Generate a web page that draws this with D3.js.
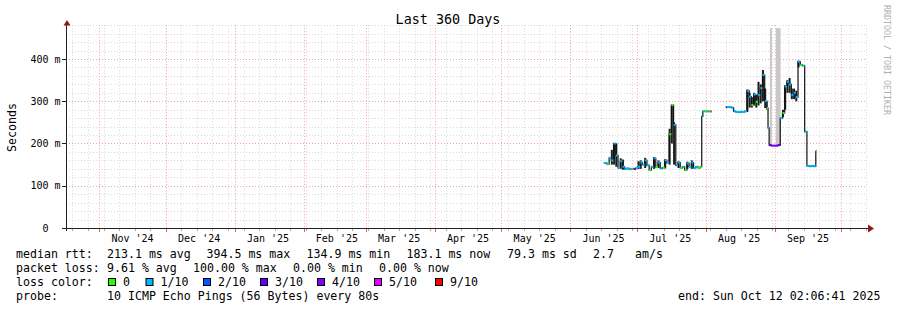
<!DOCTYPE html>
<html>
<head>
<meta charset="utf-8">
<script src="https://cdn.jsdelivr.net/npm/d3@7"></script>
<style>
  body { margin: 0; background: #fff; }
  svg text { font-family: "DejaVu Sans Mono", monospace; white-space: pre; }
</style>
</head>
<body>
<div id="chart"></div>
<script>
// ---- data ----
var endTime = "2025-10-12 02:06:41";
var spanDays = 360;

// consolidated samples, median rtt in ms, loss out of 10 pings
var sampleTimes = [
  "2025-06-16 02", "2025-06-17 12", "2025-06-18 12", "2025-06-19 12", "2025-06-20 12",
  "2025-06-21 12", "2025-06-22 12", "2025-06-23 12", "2025-06-24 12", "2025-06-25 12",
  "2025-06-26 12", "2025-06-27 12", "2025-06-28 12", "2025-06-29 12", "2025-06-30 12",
  "2025-07-01 12", "2025-07-02 12", "2025-07-03 12", "2025-07-04 12", "2025-07-05 12",
  "2025-07-06 12", "2025-07-07 12", "2025-07-08 12", "2025-07-09 12", "2025-07-10 12",
  "2025-07-11 12", "2025-07-12 12", "2025-07-13 12", "2025-07-14 12", "2025-07-15 12",
  "2025-07-16 12", "2025-07-17 12", "2025-07-18 12", "2025-07-19 12", "2025-07-20 12",
  "2025-07-21 12", "2025-07-22 12", "2025-07-23 12", "2025-07-24 12", "2025-07-25 12",
  "2025-07-26 12", "2025-07-27 12", "2025-07-28 12", "2025-07-29 12", "2025-07-30 04",
  "2025-07-30 16", "2025-07-31 12", "2025-08-01 12", "2025-08-02 12", "2025-08-03 03",
  "2025-08-03 16", "2025-08-10 00", "2025-08-10 12", "2025-08-11 12", "2025-08-12 12",
  "2025-08-13 12", "2025-08-14 12", "2025-08-15 12", "2025-08-16 12", "2025-08-17 12",
  "2025-08-18 12", "2025-08-19 12", "2025-08-20 12", "2025-08-21 12", "2025-08-22 12",
  "2025-08-23 12", "2025-08-24 12", "2025-08-25 12", "2025-08-26 12", "2025-08-27 12",
  "2025-08-28 12", "2025-08-29 00", "2025-08-29 12", "2025-08-30 12", "2025-08-31 12",
  "2025-09-01 12", "2025-09-02 12", "2025-09-03 12", "2025-09-04 12", "2025-09-05 12",
  "2025-09-06 12", "2025-09-07 12", "2025-09-08 12", "2025-09-09 12", "2025-09-10 12",
  "2025-09-11 12", "2025-09-12 12", "2025-09-13 12", "2025-09-14 12", "2025-09-15 12",
  "2025-09-16 12", "2025-09-17 12", "2025-09-18 12", "2025-09-19 12", "2025-09-20 00"
];
var medianMs = [
  154, 151, 166, 160, 200,
  172, 142, 158, 145, 140,
  141, 139, 140, 140, 142,
  145, 155, 150, 160, 148,
  137, 145, 165, 144, 155,
  141, 143, 160, 154, 222,
  291, 244, 148, 155, 142,
  145, 137, 153, 145, 155,
  142, 145, 142, 145, 264,
  276, 276, 276, 276, 276,
  null, 286, 286, 286, 285,
  276, 275, 274, 275, 275,
  276, 325, 311, 291, 316,
  299, 315, 331, 362, 300,
  284, 237, 196, 195, 195,
  195, 196, 260, 272, 335,
  346, 340, 315, 320, 310,
  394, 386, 384, 228, 147,
  146, 147, 146, 183, null
];
var lossCount = [
  1, 0, 1, 1, 1,
  1, 1, 1, 1, 1,
  1, 1, 0, 3, 1,
  1, 1, 1, 1, 1,
  0, 1, 1, 0, 1,
  1, 0, 1, 1, 0,
  0, 1, 1, 1, 0,
  1, 0, 1, 1, 1,
  1, 1, 0, 0, 1,
  1, 0, 1, 0, 10,
  0, 3, 1, 1, 1,
  1, 1, 1, 1, 1,
  1, 1, 1, 0, 1,
  0, 1, 1, 1, 1,
  0, 1, 3, 4, 4,
  4, 3, 1, 0, 1,
  1, 1, 1, 1, 1,
  1, 0, 1, 1, 1,
  1, 1, 1, 0, 0
];
// smoke (spread of the pings) where it is wider than the median line
var smokeLoMs = [
  null, null, null, 150, 150,
  145, null, 140, 138, null,
  null, null, null, null, null,
  140, 140, null, 142, null,
  null, null, 140, null, 142,
  null, null, 141, null, 150,
  200, 150, null, 142, null,
  null, null, 140, null, 140,
  null, null, null, null, null,
  null, null, null, null, null,
  null, null, null, null, null,
  null, null, null, null, null,
  null, 275, 285, 285, 290,
  285, 290, 295, 300, 284,
  280, null, null, null, null,
  null, null, null, 262, 280,
  320, 320, 305, 305, 300,
  380, null, null, null, null,
  null, null, null, null, null
];
var smokeHiMs = [
  null, null, null, 185, 200,
  200, null, 165, 162, null,
  null, null, null, null, null,
  158, 160, null, 166, null,
  null, null, 168, null, 160,
  null, null, 163, null, 235,
  291, 250, null, 158, null,
  null, null, 157, null, 160,
  null, null, null, null, null,
  null, null, null, null, null,
  null, null, null, null, null,
  null, null, null, null, null,
  null, 328, 320, 310, 320,
  315, 346, 340, 374, 330,
  300, null, null, null, null,
  null, null, null, 280, 338,
  350, 355, 330, 330, 325,
  396, null, null, null, null,
  null, null, null, null, null
];
// periods of full packet loss
var outageStart = ["2025-08-29 20", "2025-09-01 13"];
var outageEnd   = ["2025-08-30 18", "2025-09-03 16"];

var lossThresholds = [1, 2, 3, 4, 5, 9];
var lossColors = ["#26ff00", "#00b8ff", "#0059ff", "#5e00ff", "#7e00ff", "#dd00ff", "#ff0000"];
var lossLabels = ["0", "1/10", "2/10", "3/10", "4/10", "5/10", "9/10"];

var yTicks = [0, 100, 200, 300, 400];
var yTickLabels = ["0  ", "100 m", "200 m", "300 m", "400 m"];
var yMax = 480;

var rttLabels = ["median rtt:", "213.1 ms avg", "394.5 ms max", "134.9 ms min", "183.1 ms now", "79.3 ms sd", "2.7", "am/s"];
var lossStatLabels = ["packet loss:", "9.61 % avg", "100.00 % max", "0.00 % min", "0.00 % now"];
var probeLabels = ["probe:", "10 ICMP Echo Pings (56 Bytes) every 80s"];
var endLabel = "end: Sun Oct 12 02:06:41 2025";
var title = "Last 360 Days";

// ---- layout ----
var W = 897, H = 310;
var x0 = 66, x1 = 866, yTop = 25.2, yBot = 228;
var rttX = [16, 107, 206.5, 306.5, 406.5, 507, 593, 635];
var lossStatX = [16, 107, 193, 293, 379];
var boxX = [108, 145.5, 203, 260, 317, 374, 435];

var parseT = d3.utcParse("%Y-%m-%d %H");
var end = d3.utcParse("%Y-%m-%d %H:%M:%S")(endTime);
var start = d3.utcDay.offset(end, -spanDays);

var x = d3.scaleUtc().domain([start, end]).range([x0, x1]);
var y = d3.scaleLinear().domain([0, yMax]).range([yBot, yTop]);
var lossColor = d3.scaleThreshold().domain(lossThresholds).range(lossColors);

var samples = sampleTimes.map(function(t, i) {
  return { t: parseT(t), ms: medianMs[i], loss: lossCount[i], lo: smokeLoMs[i], hi: smokeHiMs[i] };
});
samples.forEach(function(d, i) {
  d.next = i < samples.length - 1 ? samples[i + 1].t : d.t;
});

var svg = d3.select("#chart").append("svg")
  .attr("width", W)
  .attr("height", H)
  .style("display", "block");

svg.append("rect").attr("width", W).attr("height", H).attr("fill", "#fff");

var crisp = function(v) { return Math.round(v) + 0.5; };
var minorCol = "#d9d9d9", majorCol = "#f3a3a3";

// ---- grid ----
var grid = svg.append("g");
var minorMs = d3.range(20, yMax + 1, 20).filter(function(v) { return v % 100 != 0; });
grid.selectAll("line.hmin").data(minorMs).enter().append("line")
  .attr("x1", x0).attr("x2", x1)
  .attr("y1", function(d) { return crisp(y(d)); })
  .attr("y2", function(d) { return crisp(y(d)); })
  .attr("stroke", minorCol).attr("stroke-dasharray", "1,2");

var sundays = d3.utcSunday.range(start, end);
grid.selectAll("line.vmin").data(sundays).enter().append("line")
  .attr("x1", function(d) { return crisp(x(d)); })
  .attr("x2", function(d) { return crisp(x(d)); })
  .attr("y1", yTop).attr("y2", yBot)
  .attr("stroke", minorCol).attr("stroke-dasharray", "1,2");

grid.selectAll("line.hmaj").data(yTicks.slice(1)).enter().append("line")
  .attr("x1", x0).attr("x2", x1)
  .attr("y1", function(d) { return crisp(y(d)); })
  .attr("y2", function(d) { return crisp(y(d)); })
  .attr("stroke", majorCol).attr("stroke-dasharray", "1,2");

var months = d3.utcMonth.range(d3.utcMonth.ceil(start), end);
grid.selectAll("line.vmaj").data(months).enter().append("line")
  .attr("x1", function(d) { return crisp(x(d)); })
  .attr("x2", function(d) { return crisp(x(d)); })
  .attr("y1", yTop).attr("y2", yBot)
  .attr("stroke", majorCol).attr("stroke-dasharray", "1,2");

// ---- outages (grey bands) ----
var plot = svg.append("g");
plot.selectAll("rect.outage").data(outageStart).enter().append("rect")
  .attr("x", function(d) { return x(parseT(d)); })
  .attr("width", function(d, i) { return x(parseT(outageEnd[i])) - x(parseT(d)); })
  .attr("y", yTop + 3)
  .attr("height", y(196) - yTop - 3)
  .attr("fill", "#c8c8c8");

// ---- smoke ----
plot.selectAll("rect.smoke").data(samples.filter(function(d) { return d.lo != null; }))
  .enter().append("rect")
  .attr("x", function(d) { return x(d.t) - 0.5; })
  .attr("width", function(d) { return Math.min(2, x(d.next) - x(d.t)); })
  .attr("y", function(d) { return y(d.hi); })
  .attr("height", function(d) { return y(d.lo) - y(d.hi); })
  .attr("fill", "#1e1e1e");

// ---- median ----
var stepLine = d3.line()
  .defined(function(d) { return d.ms != null; })
  .x(function(d) { return x(d.t); })
  .y(function(d) { return y(d.ms); })
  .curve(d3.curveStepAfter);

plot.append("path")
  .datum(samples)
  .attr("d", stepLine)
  .attr("fill", "none")
  .attr("stroke", "#111")
  .attr("stroke-width", 1.2);

plot.selectAll("line.med").data(samples.filter(function(d) { return d.ms != null; }))
  .enter().append("line")
  .attr("x1", function(d) { return x(d.t); })
  .attr("x2", function(d) { return x(d.next); })
  .attr("y1", function(d) { return y(d.ms); })
  .attr("y2", function(d) { return y(d.ms); })
  .attr("stroke", function(d) { return lossColor(d.loss); })
  .attr("stroke-width", 2);

// ---- axes ----
var axisCol = "#222", arrowCol = "#8b1a1a";
var axes = svg.append("g");
axes.append("line").attr("x1", 62).attr("x2", 868).attr("y1", yBot + 0.5).attr("y2", yBot + 0.5).attr("stroke", axisCol);
axes.append("line").attr("x1", x0 + 0.5).attr("x2", x0 + 0.5).attr("y1", 231).attr("y2", 24).attr("stroke", axisCol);
axes.append("path").attr("d", "M63.5,25.5L70.5,25.5L67,20Z").attr("fill", arrowCol);
axes.append("path").attr("d", "M868,224.5L868,232.5L874,228.5Z").attr("fill", arrowCol);

axes.selectAll("line.xt").data(sundays).enter().append("line")
  .attr("x1", function(d) { return crisp(x(d)); })
  .attr("x2", function(d) { return crisp(x(d)); })
  .attr("y1", yBot + 1).attr("y2", yBot + 3)
  .attr("stroke", "#aaa");
axes.selectAll("line.xm").data(months).enter().append("line")
  .attr("x1", function(d) { return crisp(x(d)); })
  .attr("x2", function(d) { return crisp(x(d)); })
  .attr("y1", yBot + 1).attr("y2", yBot + 4)
  .attr("stroke", "#e06060");
axes.selectAll("line.yt").data(yTicks).enter().append("line")
  .attr("x1", 62).attr("x2", x0)
  .attr("y1", function(d) { return crisp(y(d)); })
  .attr("y2", function(d) { return crisp(y(d)); })
  .attr("stroke", axisCol);

var fmtMonth = d3.utcFormat("%b '%y");
var labelMonths = months.filter(function(m) { return d3.utcDay.offset(m, 15) < end; });
axes.selectAll("text.xl").data(labelMonths).enter().append("text")
  .attr("x", function(d) { return x(d3.utcDay.offset(d, 15)); })
  .attr("y", 241.5)
  .attr("text-anchor", "middle")
  .attr("font-size", "10px")
  .attr("fill", "#000")
  .text(fmtMonth);

axes.selectAll("text.yl").data(yTicks).enter().append("text")
  .attr("x", 60.5)
  .attr("y", function(d) { return y(d) + 3.6; })
  .attr("text-anchor", "end")
  .attr("font-size", "10px")
  .attr("fill", "#000")
  .text(function(d, i) { return yTickLabels[i]; });

svg.append("text")
  .attr("transform", "translate(15.5,127.5) rotate(-90)")
  .attr("text-anchor", "middle")
  .attr("font-size", "11.6px")
  .text("Seconds");

svg.append("text")
  .attr("x", 448).attr("y", 24)
  .attr("text-anchor", "middle")
  .attr("font-size", "13.4px")
  .text(title);

svg.append("text")
  .attr("transform", "translate(884,5) rotate(90)")
  .attr("font-size", "8.3px")
  .attr("fill", "#b0b0b0")
  .text("RRDTOOL / TOBI OETIKER");

// ---- legend ----
var legend = svg.append("g").attr("font-size", "11.6px").attr("fill", "#000");
legend.selectAll("text.rtt").data(rttLabels).enter().append("text")
  .attr("x", function(d, i) { return rttX[i]; }).attr("y", 257.5).text(function(d) { return d; });
legend.selectAll("text.ls").data(lossStatLabels).enter().append("text")
  .attr("x", function(d, i) { return lossStatX[i]; }).attr("y", 271.8).text(function(d) { return d; });
legend.append("text").attr("x", 16).attr("y", 286).text("loss color:");
legend.selectAll("rect.box").data(lossLabels).enter().append("rect")
  .attr("x", function(d, i) { return boxX[i] + 0.5; })
  .attr("y", 278.5)
  .attr("width", 7).attr("height", 7)
  .attr("fill", function(d, i) { return lossColors[i]; })
  .attr("stroke", "#000");
legend.selectAll("text.box").data(lossLabels).enter().append("text")
  .attr("x", function(d, i) { return boxX[i] + 15; })
  .attr("y", 286)
  .text(function(d) { return d; });
legend.append("text").attr("x", 16).attr("y", 300.3).text(probeLabels[0]);
legend.append("text").attr("x", 107).attr("y", 300.3).text(probeLabels[1]);
legend.append("text").attr("x", 678).attr("y", 300.3).text(endLabel);
</script>
</body>
</html>
